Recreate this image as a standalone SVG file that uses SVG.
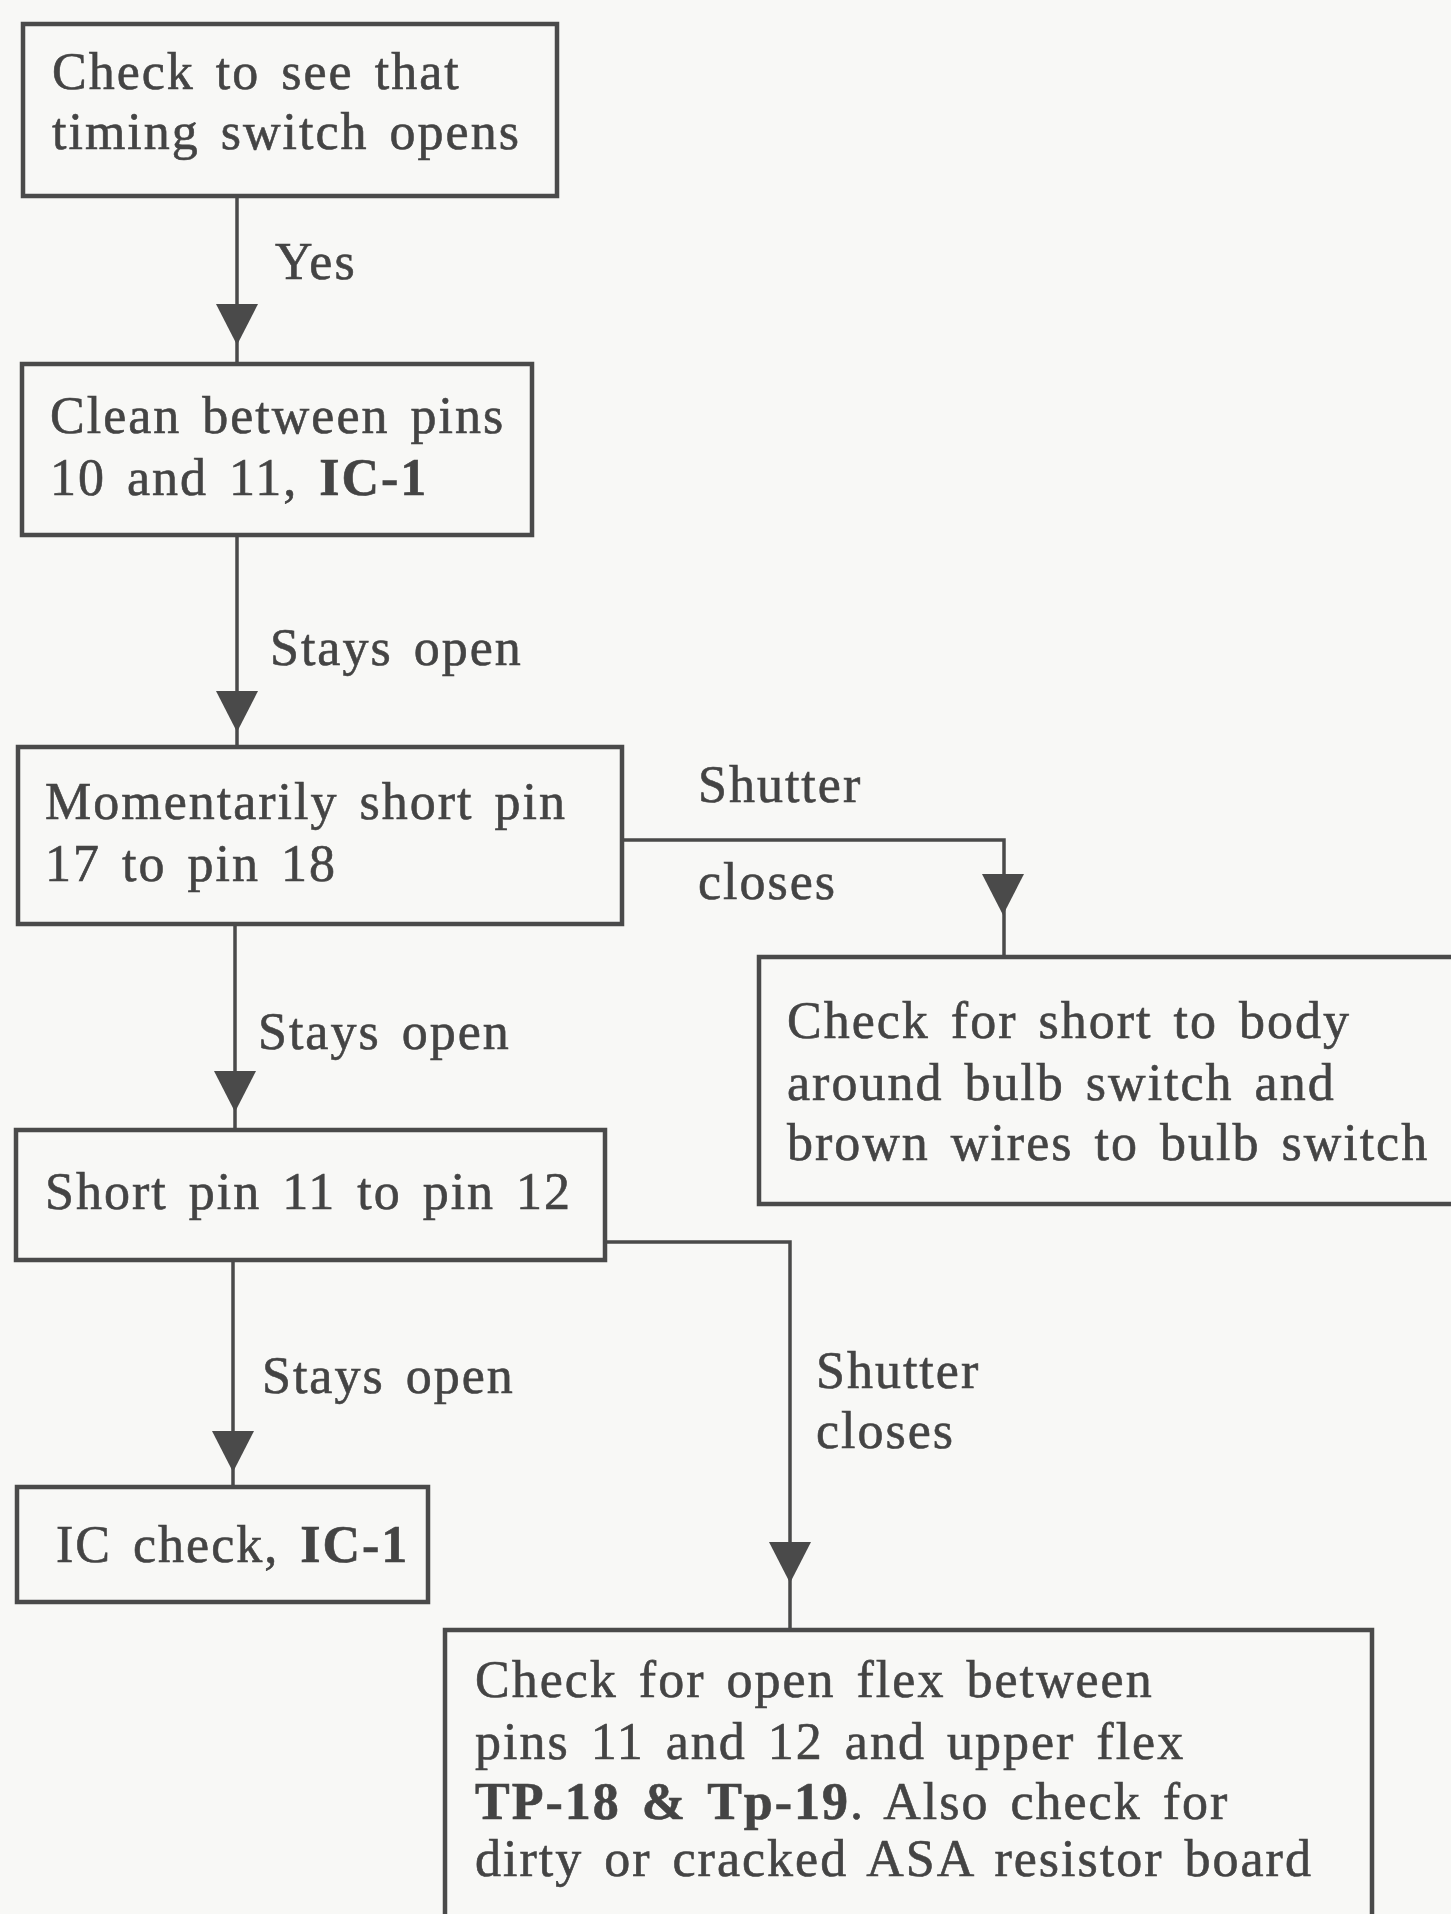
<svg xmlns="http://www.w3.org/2000/svg" xmlns:xlink="http://www.w3.org/1999/xlink" width="1451" height="1914" viewBox="0 0 1451 1914">
  <style>
    .box { fill: none; stroke: #4a4a4a; stroke-width: 4.5; }
    .wire { fill: none; stroke: #4a4a4a; stroke-width: 3.5; }
    .head { fill: #4a4a4a; }
    text { font-family: "Liberation Serif", "Times New Roman", serif; font-size: 52px; fill: #444444; stroke: #444444; stroke-width: 0.6px; letter-spacing: 2px; word-spacing: 6px; }
    .b { font-weight: bold; }
  </style>
  <defs>
    <!-- downward arrowhead, origin at the top centre -->
    <path id="arrowhead" class="head" d="M-21,0 L21,0 L0,41 Z"/>
  </defs>

  <rect width="1451" height="1914" fill="#f8f8f6"/>

  <!-- connectors -->
  <g id="connectors">
    <path class="wire" d="M237,196 V364"/>
    <use xlink:href="#arrowhead" x="237" y="304"/>
    <text x="275" y="279">Yes</text>

    <path class="wire" d="M237,535 V747"/>
    <use xlink:href="#arrowhead" x="237" y="691"/>
    <text x="270" y="665">Stays open</text>

    <path class="wire" d="M622,840 H1004 V957"/>
    <use xlink:href="#arrowhead" x="1003" y="874"/>
    <text x="698" y="802">Shutter</text>
    <text x="698" y="899">closes</text>

    <path class="wire" d="M235,924 V1130"/>
    <use xlink:href="#arrowhead" x="235" y="1071"/>
    <text x="258" y="1049">Stays open</text>

    <path class="wire" d="M233,1260 V1487"/>
    <use xlink:href="#arrowhead" x="233" y="1431"/>
    <text x="262" y="1393">Stays open</text>

    <path class="wire" d="M605,1242 H790 V1630"/>
    <use xlink:href="#arrowhead" x="790" y="1542"/>
    <text x="816" y="1388">Shutter</text>
    <text x="816" y="1448">closes</text>
  </g>

  <!-- steps -->
  <g id="step-timing-switch">
    <rect class="box" x="23" y="24" width="534" height="172"/>
    <text x="52" y="89">Check to see that</text>
    <text x="52" y="149">timing switch opens</text>
  </g>

  <g id="step-clean-pins">
    <rect class="box" x="22" y="364" width="510" height="171"/>
    <text x="50" y="433">Clean between pins</text>
    <text x="50" y="495">10 and 11, <tspan class="b">IC-1</tspan></text>
  </g>

  <g id="step-short-17-18">
    <rect class="box" x="18" y="747" width="604" height="177"/>
    <text x="45" y="819">Momentarily short pin</text>
    <text x="45" y="881">17 to pin 18</text>
  </g>

  <g id="step-body-short">
    <rect class="box" x="759" y="957" width="712" height="247"/>
    <text x="787" y="1038">Check for short to body</text>
    <text x="787" y="1100">around bulb switch and</text>
    <text x="787" y="1160">brown wires to bulb switch</text>
  </g>

  <g id="step-short-11-12">
    <rect class="box" x="16" y="1130" width="589" height="130"/>
    <text x="45" y="1209">Short pin 11 to pin 12</text>
  </g>

  <g id="step-ic-check">
    <rect class="box" x="17" y="1487" width="411" height="115"/>
    <text x="56" y="1562">IC check, <tspan class="b">IC-1</tspan></text>
  </g>

  <g id="step-open-flex">
    <rect class="box" x="445" y="1630" width="927" height="310"/>
    <text x="475" y="1697">Check for open flex between</text>
    <text x="475" y="1759">pins 11 and 12 and upper flex</text>
    <text x="475" y="1819"><tspan class="b">TP-18 &amp; Tp-19</tspan>. Also check for</text>
    <text x="475" y="1876">dirty or cracked ASA resistor board</text>
  </g>
</svg>
